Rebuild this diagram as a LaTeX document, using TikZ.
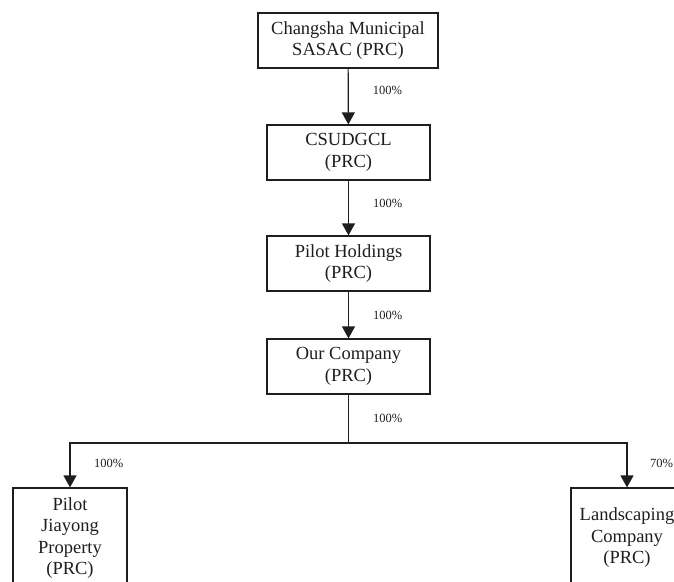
\documentclass[tikz,border=0pt]{standalone}
\usepackage{fontspec}
\setmainfont{Liberation Serif}
\usepackage{xcolor}
\usetikzlibrary{arrows.meta,positioning,calc}
\definecolor{inkgray}{RGB}{30, 30, 30}

\begin{document}
\begin{tikzpicture}[
    x=1pt, y=-1pt,
    entity/.style={
        rectangle,
        draw=inkgray,
        line width=1.2pt,
        align=center,
        text=inkgray,
        inner sep=0pt,
        font=\fontsize{18.5}{21.5}\selectfont
    },
    owns/.style={
        draw=inkgray,
        line width=1.2pt,
        -{Triangle[length=12pt,width=13pt]}
    },
    share/.style={
        anchor=west,
        inner sep=0pt,
        xshift=24pt,
        text=inkgray,
        font=\fontsize{12.5}{14}\selectfont
    }
]
    \useasboundingbox (0,0) rectangle (674,581);
    \clip (0,0) rectangle (674,581);

    % Chain of holders
    \node[entity, minimum width=180pt, minimum height=55pt] (sasac) at (348,40.5)
        {Changsha Municipal\\SASAC (PRC)};
    \node[entity, minimum width=163pt, minimum height=55pt] (csudgcl) at (348.5,152.5)
        {CSUDGCL\\(PRC)};
    \node[entity, minimum width=163pt, minimum height=55pt] (pilot) at (348.5,263.5)
        {Pilot Holdings\\(PRC)};
    \node[entity, minimum width=163pt, minimum height=55pt] (ourco) at (348.5,366.5)
        {Our Company\\(PRC)};

    % Subsidiaries
    \node[entity, minimum width=114pt, minimum height=100pt] (jiayong) at (70,538)
        {Pilot\\Jiayong\\Property\\(PRC)};
    \node[entity, minimum width=112pt, minimum height=100pt] (landsc) at (627,538)
        {Landscaping\\Company\\(PRC)};

    \coordinate (split) at (ourco.south |- 0,443);

    % Connectors
    \draw[owns] (sasac) -- node[share, pos=0.4] {100\%} (csudgcl);
    \draw[owns] (csudgcl) -- node[share, pos=0.42] {100\%} (pilot);
    \draw[owns] (pilot) -- node[share] {100\%} (ourco);
    \draw[draw=inkgray, line width=1.2pt] (ourco) -- node[share] {100\%} (split);
    \draw[owns] (split) -| (jiayong.north);
    \draw[owns] (split) -| (landsc.north);

    \node[share] (pctjy) at (70,463) {100\%};
    \node[share, xshift=-1pt] (pctls) at (627,463) {70\%};
\end{tikzpicture}
\end{document}
